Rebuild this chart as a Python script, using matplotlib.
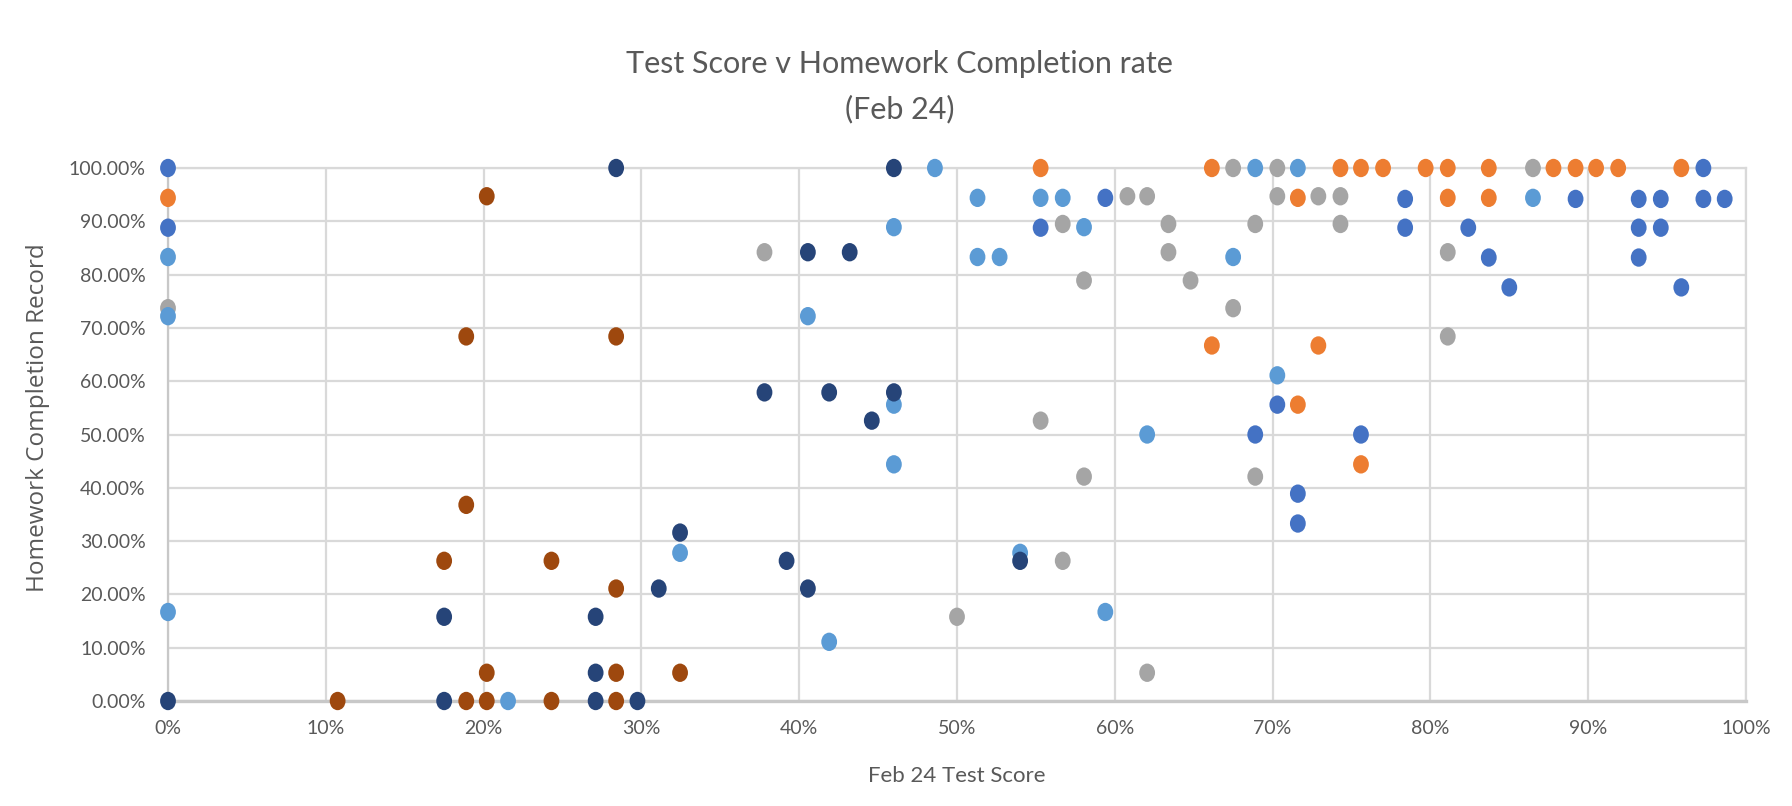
import numpy as np
import matplotlib
matplotlib.use("Agg")
import matplotlib.pyplot as plt
from matplotlib.path import Path
from matplotlib.ticker import FuncFormatter

# ---- data (test score %, homework completion %) per series ----
blue_x = [0, 0, 55.3, 59.4, 78.4, 89.2, 93.2, 94.6, 97.3, 98.65, 97.3, 78.4, 82.4, 93.2, 94.6,
          83.7, 93.2, 85.0, 95.9, 70.3, 68.9, 75.6, 71.6, 71.6]
blue_y = [100, 88.8, 88.8, 94.4, 94.2, 94.2, 94.2, 94.2, 94.2, 94.2, 100, 88.8, 88.8, 88.8, 88.8,
          83.2, 83.2, 77.6, 77.6, 55.6, 50.0, 50.0, 38.9, 33.3]

orange_x = [0, 55.3, 66.15, 74.3, 75.6, 77.0, 79.7, 81.1, 83.7, 87.8, 89.2, 90.5, 91.9, 95.9,
            71.6, 81.1, 83.7, 66.15, 72.9, 71.6, 75.6]
orange_y = [94.4, 100, 100, 100, 100, 100, 100, 100, 100, 100, 100, 100, 100, 100,
            94.4, 94.4, 94.4, 66.7, 66.7, 55.6, 44.4]

grey_x = [0, 37.8, 60.8, 62.05, 56.7, 63.4, 63.4, 58.05, 55.3, 58.05, 56.7, 50.0, 62.05,
          67.5, 70.3, 86.5, 70.3, 72.9, 74.3, 68.9, 74.3, 81.1, 64.8, 67.5, 81.1, 68.9]
grey_y = [73.7, 84.2, 94.7, 94.7, 89.5, 89.5, 84.2, 78.9, 52.6, 42.1, 26.3, 15.8, 5.3,
          100, 100, 100, 94.7, 94.7, 94.7, 89.5, 89.5, 84.2, 78.9, 73.7, 68.4, 42.1]

lightblue_x = [0, 0, 0, 21.55, 48.6, 51.3, 55.3, 56.7, 46.0, 58.05, 51.3, 52.7, 40.55, 46.0,
               62.05, 46.0, 32.45, 54.0, 59.4, 41.9, 68.9, 71.6, 86.5, 67.5, 70.3]
lightblue_y = [83.3, 72.2, 16.7, 0, 100, 94.4, 94.4, 94.4, 88.9, 88.9, 83.3, 83.3, 72.2, 55.6,
               50.0, 44.4, 27.8, 27.8, 16.7, 11.1, 100, 100, 94.4, 83.3, 61.1]

navy_x = [0, 17.5, 17.5, 27.1, 27.1, 27.1, 28.4, 46.0, 40.55, 43.2, 37.8, 41.9, 46.0, 44.6,
          32.45, 39.2, 54.0, 31.1, 40.55, 29.75]
navy_y = [0, 15.8, 0, 0, 5.3, 15.8, 100, 100, 84.2, 84.2, 57.9, 57.9, 57.9, 52.6,
          31.6, 26.3, 26.3, 21.1, 21.1, 0]

brown_x = [10.75, 18.9, 20.2, 24.3, 20.2, 17.5, 24.3, 18.9, 20.2, 18.9, 28.4, 28.4, 28.4, 32.45, 28.4]
brown_y = [0, 0, 0, 0, 5.3, 26.3, 26.3, 36.8, 94.7, 68.4, 68.4, 21.1, 5.3, 5.3, 0]

x_ticks = [0, 10, 20, 30, 40, 50, 60, 70, 80, 90, 100]
y_ticks = [0, 10, 20, 30, 40, 50, 60, 70, 80, 90, 100]

title_line1 = "Test Score v Homework Completion rate"
title_line2 = "(Feb 24)"
x_label = "Feb 24 Test Score"
y_label = "Homework Completion Record"

series = [
    (blue_x, blue_y, "#4472C4"),
    (orange_x, orange_y, "#ED7D31"),
    (grey_x, grey_y, "#A5A5A5"),
    (lightblue_x, lightblue_y, "#5B9BD5"),
    (navy_x, navy_y, "#264478"),
    (brown_x, brown_y, "#9E480E"),
]

# ---- figure ----
W, H = 1792, 806
fig = plt.figure(figsize=(W / 100, H / 100), dpi=100)
fig.patch.set_facecolor("white")

left, right, top, bottom = 168, 1746, 168, 701
ax = fig.add_axes([left / W, 1 - bottom / H, (right - left) / W, (bottom - top) / H])

txt = "#595959"
font = "Lato"

circ = Path.unit_circle()
ell = Path(circ.vertices * np.array([0.86, 1.0]), circ.codes)

ax.set_xlim(0, 100)
ax.set_ylim(0, 100)
ax.set_xticks(x_ticks)
ax.set_yticks(y_ticks)
ax.xaxis.set_major_formatter(FuncFormatter(lambda v, p: f"{v:.0f}%"))
ax.yaxis.set_major_formatter(FuncFormatter(lambda v, p: f"{v:.2f}%"))
ax.grid(True, color="#D9D9D9", linewidth=1.6, zorder=0)
ax.set_axisbelow(True)
for s in ["top", "right"]:
    ax.spines[s].set_color("#D9D9D9")
    ax.spines[s].set_linewidth(1.6)
ax.spines["left"].set_color("#C8C8C8")
ax.spines["left"].set_linewidth(1.6)
ax.spines["bottom"].set_color("#C8C8C8")
ax.spines["bottom"].set_linewidth(2.4)
ax.tick_params(length=0, labelsize=14, labelcolor=txt)
ax.tick_params(axis="y", pad=16)
ax.tick_params(axis="x", pad=14)
for lab in ax.get_xticklabels() + ax.get_yticklabels():
    lab.set_fontfamily(font)

for xs, ys, c in series:
    ax.scatter(xs, ys, s=175, marker=ell, color=c, edgecolors="none", zorder=3, clip_on=False)

fig.text(0.502, 1 - 64 / H, title_line1, ha="center", va="center", fontsize=22,
         color=txt, family=font)
fig.text(0.502, 1 - 109 / H, title_line2, ha="center", va="center", fontsize=22,
         color=txt, family=font)
fig.text((left + right) / 2 / W, 1 - 776 / H, x_label, ha="center", va="center",
         fontsize=16, color=txt, family=font)
fig.text(38 / W, 1 - 418 / H, y_label, ha="center", va="center", rotation=90,
         fontsize=17.5, color=txt, family="Open Sans")

fig.savefig("out.png", dpi=100, facecolor="white")
